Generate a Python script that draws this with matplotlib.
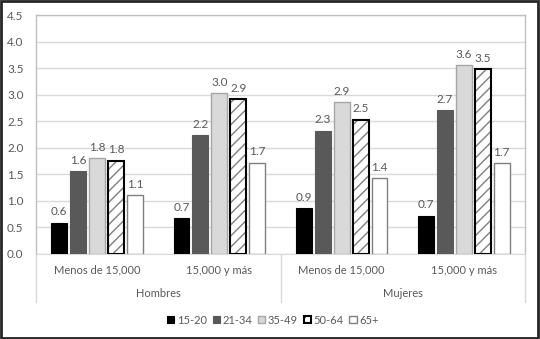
import matplotlib
matplotlib.use("Agg")
import matplotlib.pyplot as plt
import matplotlib.transforms as mtransforms
from matplotlib.patches import Rectangle, Patch
import numpy as np

plt.rcParams['font.family'] = ['Lato', 'DejaVu Sans']
plt.rcParams['hatch.linewidth'] = 1.0

categories = ["Menos de 15,000", "15,000 y más", "Menos de 15,000", "15,000 y más"]
groups = ["Hombres", "Mujeres"]
series = ["15-20", "21-34", "35-49", "50-64", "65+"]
values = {
    "15-20": [0.59, 0.68, 0.86, 0.72],
    "21-34": [1.56, 2.24, 2.32, 2.71],
    "35-49": [1.81, 3.03, 2.86, 3.56],
    "50-64": [1.76, 2.92, 2.53, 3.48],
    "65+":   [1.11, 1.72, 1.43, 1.71],
}
yticks = [0.0, 0.5, 1.0, 1.5, 2.0, 2.5, 3.0, 3.5, 4.0, 4.5]

styles = {
    "15-20": dict(facecolor="#000000", edgecolor="#000000", linewidth=0.8, hatch=None),
    "21-34": dict(facecolor="#595959", edgecolor="#595959", linewidth=0.8, hatch=None),
    "35-49": dict(facecolor="#d9d9d9", edgecolor="#a6a6a6", linewidth=1.0, hatch=None),
    "50-64": dict(facecolor="#ffffff", edgecolor="#000000", linewidth=1.5, hatch="///"),
    "65+":   dict(facecolor="#ffffff", edgecolor="#808080", linewidth=1.0, hatch=None),
}

fig = plt.figure(figsize=(5.40, 3.39), dpi=100)
ax = fig.add_axes([36/540, 1-254/339, (525-36)/540, (254-15)/339])

x = np.arange(len(categories))
step = 0.155
width = 0.13
textc = "#595959"
handles = []
for i, s in enumerate(series):
    pos = x + (i - 2) * step
    st = styles[s]
    if st["hatch"]:
        # hatch drawn in gray, outline drawn in black on top
        ax.bar(pos, values[s], width, facecolor=st["facecolor"], edgecolor="#7f7f7f",
               linewidth=0, hatch=st["hatch"], zorder=3)
        ax.bar(pos, values[s], width, fill=False, edgecolor=st["edgecolor"],
               linewidth=st["linewidth"], zorder=4)
    else:
        ax.bar(pos, values[s], width, facecolor=st["facecolor"], edgecolor=st["edgecolor"],
               linewidth=st["linewidth"], zorder=3)
    handles.append(Patch(facecolor=st["facecolor"], edgecolor=st["edgecolor"],
                         linewidth=st["linewidth"], hatch=st["hatch"], label=s))
    for xb, v in zip(pos, values[s]):
        ax.text(xb, v + 0.1, f"{v:.1f}", ha="center", va="bottom", fontsize=8.5, color=textc)

ax.set_xlim(-0.5, 3.5)
ax.set_ylim(0, 4.5)
ax.set_yticks(yticks)
ax.set_yticklabels([f"{t:.1f}" for t in yticks], fontsize=8.5, color=textc)
ax.tick_params(axis="y", length=0, pad=9)
ax.tick_params(axis="x", length=0)
ax.set_xticks([])
ax.grid(axis="y", color="#d9d9d9", linewidth=1, zorder=0)
for sp in ["top", "right", "left"]:
    ax.spines[sp].set_color("#bfbfbf")
    ax.spines[sp].set_linewidth(1)
ax.spines["bottom"].set_color("#d9d9d9")

trans = mtransforms.blended_transform_factory(ax.transData, ax.transAxes)
for xc, lab in zip(x, categories):
    ax.text(xc, -0.067, lab, transform=trans, ha="center", va="center", fontsize=8, color=textc)
for gi, g in enumerate(groups):
    ax.text(2 * gi + 0.5, -0.165, g, transform=trans, ha="center", va="center", fontsize=8, color=textc)
for xs in [-0.5, 1.5, 3.5]:
    ax.plot([xs, xs], [0, -0.2], transform=trans, color="#d9d9d9", linewidth=1, clip_on=False)

leg = fig.legend(handles=handles, loc="center", bbox_to_anchor=(273/540, 1 - 320/339), ncol=5,
                 frameon=False, fontsize=8, handlelength=0.65, handleheight=0.65,
                 handletextpad=0.25, columnspacing=0.5)
for t in leg.get_texts():
    t.set_color(textc)

fig.patches.append(Rectangle((0.002, 0.003), 0.995, 0.993, transform=fig.transFigure,
                             fill=False, edgecolor="#262626", linewidth=2))
fig.savefig("out.png", dpi=100)
